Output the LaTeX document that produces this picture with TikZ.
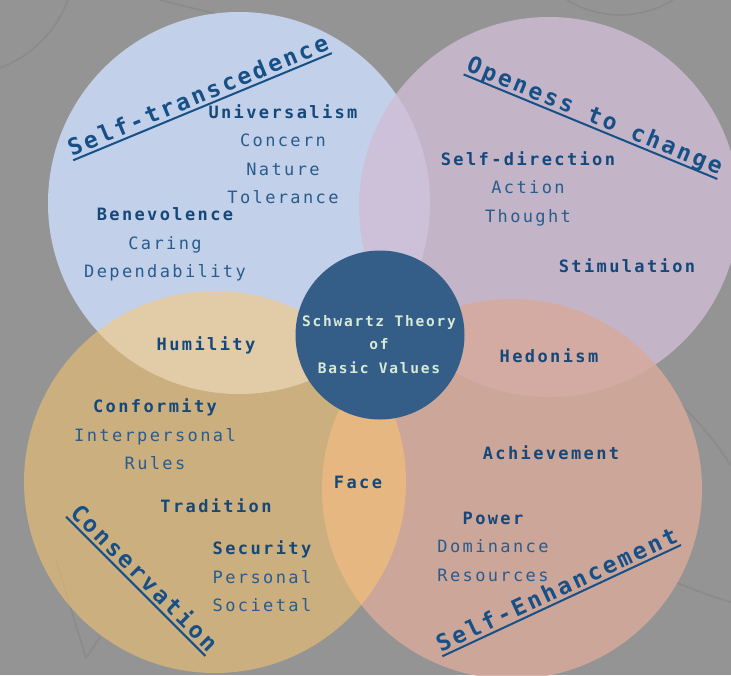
\documentclass[tikz,border=0pt]{standalone}
\usepackage{fontspec}
\usetikzlibrary{calc}
\newfontfamily\valfont{DejaVu Sans Mono}[LetterSpace=14]
\newfontfamily\titlefont{DejaVu Sans Mono}[LetterSpace=12]
\definecolor{bgc}{RGB}{148,148,148}
\definecolor{linec}{RGB}{139,139,139}
\definecolor{transc}{RGB}{207,224,255}
\definecolor{openc}{RGB}{208,189,213}
\definecolor{enhc}{RGB}{215,170,156}
\definecolor{consc}{RGB}{255,199,110}
\definecolor{corec}{RGB}{52,94,136}
\definecolor{coretxtc}{RGB}{214,234,214}
\definecolor{headc}{RGB}{20,72,122}
\definecolor{itemc}{RGB}{40,92,140}
\definecolor{titlec}{RGB}{22,80,135}
\newcommand{\hd}[1]{{\bfseries\color{headc}#1}}

\tikzset{
  valnode/.style={font=\valfont\fontsize{17}{28.3}\selectfont, text=itemc, align=center, inner sep=0pt, anchor=base},
  headnode/.style={valnode, font=\valfont\bfseries\fontsize{17}{28.3}\selectfont, text=headc},
  titlenode/.style={font=\titlefont\bfseries\fontsize{23}{26}\selectfont, text=titlec, inner sep=0pt, anchor=base},
  underl/.style={titlec, line width=2pt},
  faint/.style={linec, line width=1.6pt},
}

\begin{document}
\begin{tikzpicture}[x=1pt,y=-1pt]
\useasboundingbox (0,0) rectangle (731,675);
\clip (0,0) rectangle (731,675);
\fill[bgc] (0,0) rectangle (731,675);
\draw[faint] (-40,-40) circle (115);
\draw[faint] (620,-85) circle (100);
\draw[faint] (160,0) -- (300,35);
\draw[faint] (56,560) -- (86,658) -- (100,637);
\draw[faint] (663,390) .. controls (690,410) and (715,440) .. (731,466);
\draw[faint] (670,580) .. controls (695,590) and (715,598) .. (731,602);

\fill[transc, fill opacity=.8] (239,203) circle (191);
\fill[openc, fill opacity=.8] (549,207) circle (190);
\fill[enhc, fill opacity=.85] (512,489) circle (190);
\fill[consc, fill opacity=.53] (215,482) circle (191);

\node[circle, fill=corec, minimum size=169pt, inner sep=0pt] (core) at (380,335) {};
\node[align=center, inner sep=0pt, text=coretxtc, font=\titlefont\bfseries\fontsize{14.5}{23.5}\selectfont] (coretxt) at (379,344.5) {Schwartz Theory\\of\\Basic Values};

\node[titlenode, rotate=22.5] (trans) at (201,103) {Self-transcedence};
\node[titlenode, rotate=-22.4] (open) at (592,123) {Openess to change};
\node[titlenode, rotate=-45] (cons) at (138.5,583.5) {Conservation};
\node[titlenode, rotate=25] (enh) at (560,597) {Self-Enhancement};
\foreach \t in {trans,open,cons,enh}
  \draw[underl] ($(\t.base west)!4pt!-90:(\t.base east)$) -- ($(\t.base east)!4pt!90:(\t.base west)$);

\node[valnode] (univ) at (283,203.5) {\hd{Universalism}\\Concern\\Nature\\Tolerance};
\node[valnode] (bene) at (165,277.5) {\hd{Benevolence}\\Caring\\Dependability};
\node[valnode] (selfdir) at (528,222) {\hd{Self-direction}\\Action\\Thought};
\node[headnode] (stim) at (627,272.5) {Stimulation};
\node[headnode] (humil) at (206,350.5) {Humility};
\node[headnode] (hedon) at (549,362.5) {Hedonism};
\node[valnode] (conf) at (155,469.5) {\hd{Conformity}\\Interpersonal\\Rules};
\node[headnode] (trad) at (216,512.5) {Tradition};
\node[valnode] (secur) at (262,611.5) {\hd{Security}\\Personal\\Societal};
\node[headnode] (face) at (358,488.5) {Face};
\node[headnode] (achiev) at (551,459.5) {Achievement};
\node[valnode] (power) at (493,581) {\hd{Power}\\Dominance\\Resources};
\end{tikzpicture}
\end{document}
